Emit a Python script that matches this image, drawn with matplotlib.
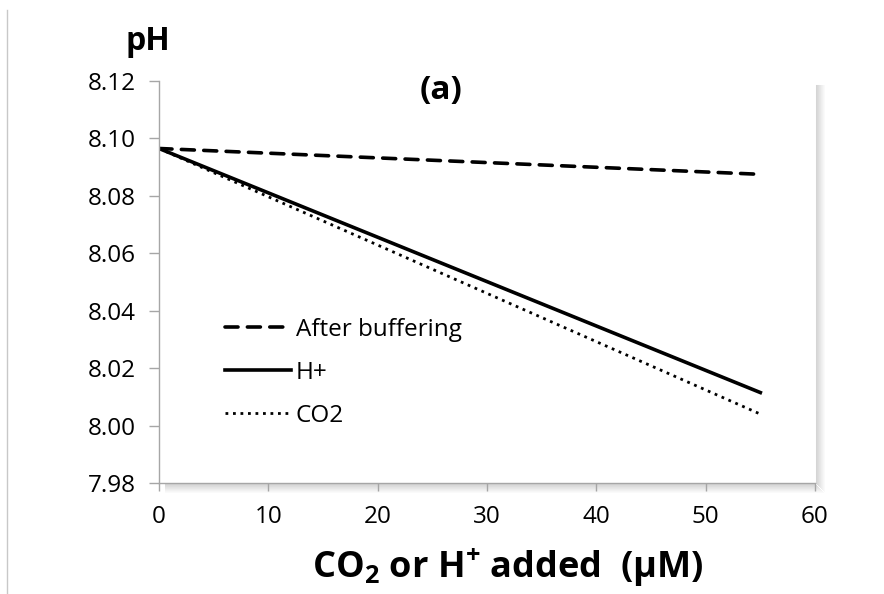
import matplotlib
matplotlib.use("Agg")
import matplotlib.pyplot as plt
from matplotlib.lines import Line2D

plt.rcParams['font.family'] = ['Open Sans', 'DejaVu Sans']
plt.rcParams['mathtext.fontset'] = 'custom'
plt.rcParams['mathtext.rm'] = 'Open Sans'
plt.rcParams['mathtext.bf'] = 'Open Sans:bold'
plt.rcParams['mathtext.it'] = 'Open Sans:italic'

# data
x_added = [0, 55]
ph_after_buffering = [8.0965, 8.0875]
ph_h_plus = [8.0965, 8.0115]
ph_co2 = [8.0965, 8.0040]
labels = ["After buffering", "H+", "CO2"]
x_ticks = [0, 10, 20, 30, 40, 50, 60]
y_ticks = [7.98, 8.00, 8.02, 8.04, 8.06, 8.08, 8.10, 8.12]

W, H = 884, 594
fig = plt.figure(figsize=(W / 100, H / 100), dpi=100)
fig.patch.set_facecolor('white')

L, R, T, B = 159, 815, 81, 483
ax = fig.add_axes([L / W, 1 - B / H, (R - L) / W, (B - T) / H])

# shadow on right and bottom of plot area
for i in range(9):
    a = 0.16 * (1 - i / 9)
    fig.add_artist(Line2D([(R + i + 0.5) / W] * 2, [1 - (B + i) / H, 1 - (T + 4) / H],
                          transform=fig.transFigure, color='black', alpha=a, lw=0.75, zorder=0))
    fig.add_artist(Line2D([(L + 6) / W, (R + i) / W], [1 - (B + i + 0.5) / H] * 2,
                          transform=fig.transFigure, color='black', alpha=a, lw=0.75, zorder=0))

# left border line of the image
fig.add_artist(Line2D([7.5 / W] * 2, [0, 1 - 10 / H], transform=fig.transFigure,
                      color='#c8c8c8', lw=1.0))

ax.plot(x_added, ph_after_buffering, color='black', lw=2.6, ls=(0, (3.6, 2.6)),
        dash_capstyle='round', label=labels[0])
ax.plot(x_added, ph_h_plus, color='black', lw=2.6, ls='-', label=labels[1])
ax.plot(x_added, ph_co2, color='black', lw=2.0, ls=(0, (1.0, 1.7)), label=labels[2])

ax.set_xlim(0, 60)
ax.set_ylim(7.98, 8.12)
ax.set_xticks(x_ticks)
ax.set_yticks(y_ticks)
ax.set_xticklabels([str(v) for v in x_ticks])
ax.set_yticklabels([f"{v:.2f}" for v in y_ticks])
for s in ['top', 'right']:
    ax.spines[s].set_visible(False)
for s in ['left', 'bottom']:
    ax.spines[s].set_color('#a6a6a6')
    ax.spines[s].set_linewidth(1.0)
ax.tick_params(axis='both', colors='#a6a6a6', width=1.0,
               labelcolor='black', labelsize=17.5)
ax.tick_params(axis='y', length=7, pad=10)
ax.tick_params(axis='x', length=6, pad=10)

leg = ax.legend(loc='upper left', bbox_to_anchor=(0.068, 0.465), frameon=False,
                fontsize=17.5, handlelength=2.7, handletextpad=0.2, labelspacing=0.78)

fig.text(148 / W, 1 - 42 / H, "pH", fontsize=23, fontweight='bold', ha='center', va='center')
fig.text(441 / W, 1 - 91 / H, "(a)", fontsize=24, fontweight='bold', ha='center', va='center')
fig.text(508 / W, 1 - 568 / H, r"CO$_\mathbf{2}$ or H$^\mathbf{+}$ added  (μM)",
         fontsize=26, fontweight='bold', ha='center', va='center')

fig.savefig("out.png", dpi=100, facecolor='white')
